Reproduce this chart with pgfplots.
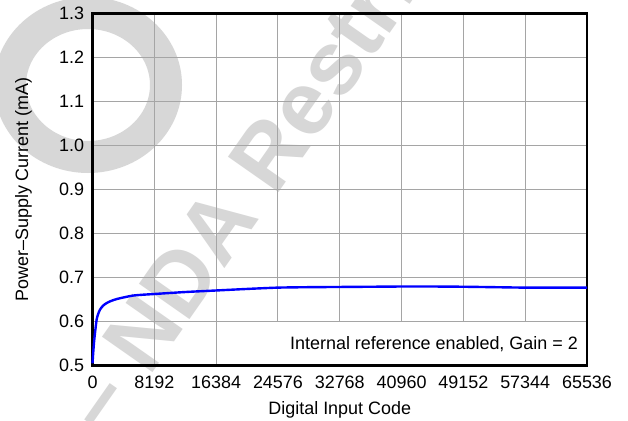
\documentclass[border=0pt]{standalone}
\usepackage{fontspec}
\setmainfont{Liberation Sans}
\usepackage{pgfplots}
\pgfplotsset{compat=1.18}
\definecolor{wm}{RGB}{215,215,215}
\definecolor{gridc}{RGB}{165,165,165}
\definecolor{curve}{RGB}{0,0,255}
\pgfplotstableread{
x y
0 0.505
100 0.530
200 0.552
331 0.574
556 0.605
750 0.617
994 0.627
1400 0.636
1882 0.642
2500 0.647
3207 0.651
4200 0.655
5406 0.659
6800 0.661
8192 0.6625
12288 0.667
16384 0.6705
20480 0.674
24576 0.677
28672 0.678
32768 0.6785
36864 0.679
40960 0.6795
45056 0.6795
49152 0.679
53248 0.678
57344 0.677
61440 0.677
65536 0.677
}\curvedata
\begin{document}
\begin{tikzpicture}
\fill[white] (-92.5bp,-55.5bp) rectangle (535.5bp,365.5bp);
% watermark
\draw[wm, line width=32bp] (-4.5bp,280.5bp) ellipse [x radius=78bp, y radius=72bp];
\node[wm, font=\bfseries\fontsize{90}{90}\selectfont, rotate=55, anchor=west, inner sep=0pt] at (-12bp,-54.5bp) {– NDA Restricted};
\begin{axis}[
  at={(0,0)}, anchor=south west,
  scale only axis, width=494.5bp, height=352bp,
  xmin=0, xmax=65536, ymin=0.5, ymax=1.3,
  scaled x ticks=false, scaled y ticks=false,
  xtick={0,8192,16384,24576,32768,40960,49152,57344,65536},
  xticklabels={0,8192,16384,24576,32768,40960,49152,57344,65536},
  ytick={0.5,0.6,...,1.31},
  yticklabel style={/pgf/number format/fixed, /pgf/number format/fixed zerofill, /pgf/number format/precision=1},
  /pgf/number format/assume math mode=true,
  tick label style={font=\fontsize{18}{21}\selectfont},
  xticklabel style={yshift=-7bp},
  yticklabel style={xshift=-5bp},
  tick style={draw=none},
  grid=major,
  major grid style={gridc, line width=0.9bp},
  axis line style={black, line width=2.4bp},
  xlabel={Digital Input Code},
  ylabel={Power–Supply Current (mA)},
  label style={font=\fontsize{18}{21}\selectfont},
  xlabel style={at={(axis description cs:0.5,-0.1257)}, anchor=center},
  ylabel style={at={(axis description cs:-0.1395,0.5)}, anchor=center},
  clip=false,
]
\fill[white] ([yshift=1.3bp]axis cs:23000,0.5) rectangle ([xshift=-1.3bp,yshift=-0.6bp]axis cs:65536,0.6);
\addplot[curve, line width=2.4bp, smooth, tension=0.4] table[x=x,y=y] {\curvedata};
\node[anchor=east, font=\fontsize{18}{21}\selectfont, inner sep=0pt] at ([xshift=-9bp,yshift=21.5bp]rel axis cs:1,0) {Internal reference enabled, Gain = 2};
\end{axis}
\pgfresetboundingbox
\useasboundingbox (-92.5bp,-55.5bp) rectangle (535.5bp,365.5bp);
\end{tikzpicture}
\end{document}
